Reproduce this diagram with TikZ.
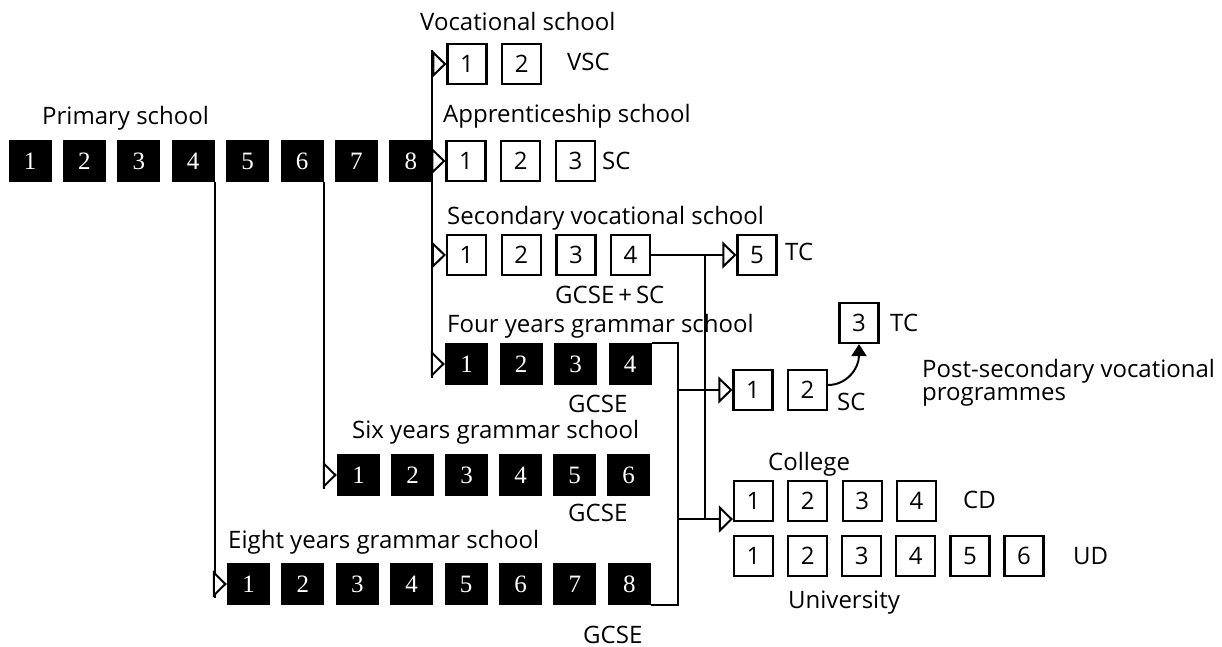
\documentclass[tikz,border=0pt]{standalone}
\usepackage{fontspec}
\setmainfont{Open Sans}
\newfontfamily\numfont{Liberation Serif}
\usetikzlibrary{arrows.meta}

\tikzset{
  blk/.style={fill=black, text=white, minimum width=43pt, minimum height=42pt, inner sep=0pt, font=\numfont\fontsize{25}{25}\selectfont},
  wht/.style={draw, line width=2.2pt, fill=white, minimum width=39pt, minimum height=40pt, inner sep=0pt, font=\fontsize{24}{24}\selectfont},
  lbl/.style={anchor=base west, inner sep=0pt, font=\fontsize{24}{29}\selectfont},
  tag/.style={anchor=west, inner sep=0pt, font=\fontsize{24}{29}\selectfont},
  tri/.style={line width=2pt, -{Triangle[length=14pt, width=27pt, fill=white]}},
}

\begin{document}
\begin{tikzpicture}[x=1pt, y=-1pt]
            \useasboundingbox (0,0) rectangle (1222,647);

            % 小学
            \node[lbl] (prim) at (42,125) {Primary school};
            \foreach \i in {1,...,8}
                \node[blk] (p\i) at ({30+54.4*(\i-1)},161) {\i};

            % 职业学校
            \node[lbl] (voc) at (420,31) {Vocational school};
            \foreach \i in {1,2}
                \node[wht] (v\i) at ({467+54.7*(\i-1)},64) {\i};
            \node[tag] (vsc) at (567,62) {VSC};

            % 学徒学校
            \node[lbl] (app) at (443,123) {Apprenticeship school};
            \foreach \i in {1,2,3}
                \node[wht] (a\i) at ({466+54.7*(\i-1)},161) {\i};
            \node[tag] (asc) at (602,161) {SC};

            % 中等职业学校
            \node[lbl] (sec) at (447,224) {Secondary vocational school};
            \foreach \i in {1,...,4}
                \node[wht] (s\i) at ({466.5+54.7*(\i-1)},255) {\i};
            \node[wht] (s5) at (757,255) {5};
            \node[tag] (stc) at (785,252) {TC};
            \node[lbl] (ssc) at (555,303) {GCSE\,+\,SC};

            % 文法学校
            \node[lbl] (four) at (447,332) {Four years grammar school};
            \foreach \i in {1,...,4}
                \node[blk] (f\i) at ({466.5+54.5*(\i-1)},364) {\i};
            \node[lbl] (fg) at (568,412) {GCSE};

            \node[lbl] (six) at (352,438) {Six years grammar school};
            \foreach \i in {1,...,6}
                \node[blk] (x\i) at ({358.5+54*(\i-1)},475) {\i};
            \node[lbl] (xg) at (568,521) {GCSE};

            \node[lbl] (eight) at (228,548) {Eight years grammar school};
            \foreach \i in {1,...,8}
                \node[blk] (e\i) at ({248.5+54.4*(\i-1)},584) {\i};
            \node[lbl] (eg) at (583,643) {GCSE};

            % 高中后职业课程
            \node[wht] (q1) at (753,390) {1};
            \node[wht] (q2) at (807.5,390) {2};
            \node[wht] (q3) at (859,323) {3};
            \node[tag] (qsc) at (837,402) {SC};
            \node[tag] (qtc) at (890,323) {TC};
            \node[lbl] (post) at (922,377) {Post-secondary vocational};
            \node[lbl] (prog) at (922,400) {programmes};

            % 大学
            \node[lbl] (col) at (768,470) {College};
            \foreach \i in {1,...,4}
                \node[wht] (c\i) at ({753.5+54.3*(\i-1)},501) {\i};
            \node[tag] (cd) at (963,500) {CD};
            \foreach \i in {1,...,6}
                \node[wht] (u\i) at ({753.5+54.1*(\i-1)},556) {\i};
            \node[tag] (ud) at (1073,556) {UD};
            \node[lbl] (uni) at (788,608) {University};

            % 连线
            \coordinate (tr) at (432,0);
            \coordinate (br) at (678,0);
            \coordinate (vt) at (705,0);
            \coordinate (cu) at ([yshift=3pt]c1.south west);

            \draw[line width=2pt] ([yshift=14pt]v1.west -| tr) -- ([yshift=-14pt]f1.west -| tr);
            \draw[tri] (v1.west -| tr) -- (v1.west);
            \draw[tri] (s1.west -| tr) -- (s1.west);
            \draw[tri] (f1.west -| tr) -- (f1.west);
            \draw[tri] (p8.east) -- (a1.west);

            \draw[line width=2pt] (p4.south east) -- ([yshift=-14pt]e1.west -| p4.east);
            \draw[tri] (e1.west -| p4.east) -- (e1.west);
            \draw[line width=2pt] (p6.south east) -- ([yshift=-14pt]x1.west -| p6.east);
            \draw[tri] (x1.west -| p6.east) -- (x1.west);

            \draw[tri] (s4.east) -- (s5.west);
            \draw[line width=2pt] (s5.west -| vt) -- (cu -| vt);

            \draw[line width=2pt] (f4.north east) -| (e8.south east -| br) -- (e8.south east);
            \draw[tri] (q1.west -| br) -- (q1.west);
            \draw[tri] (cu -| br) -- (cu);

            \draw[line width=2pt, -{Triangle[length=12pt, width=15pt]}] ([yshift=5pt]q2.east) .. controls +(18,0) and +(0,25) .. (q3.south);
\end{tikzpicture}
\end{document}
